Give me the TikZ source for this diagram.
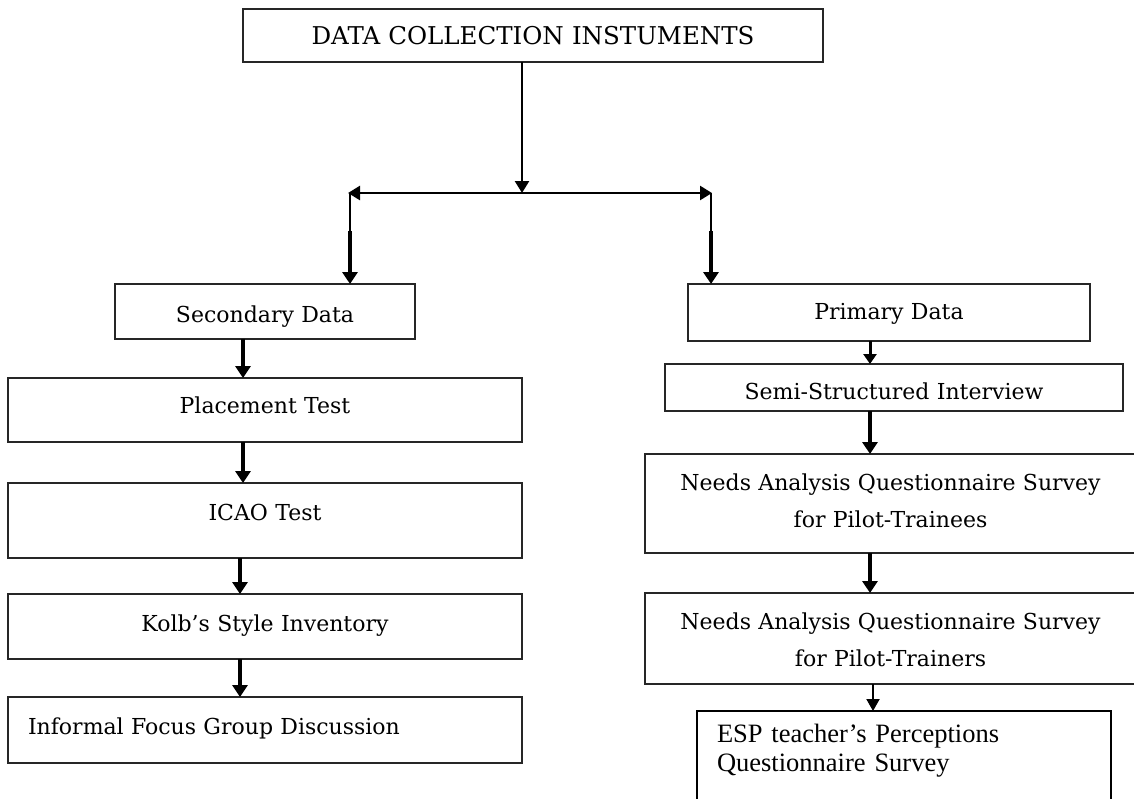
\documentclass[tikz,border=0pt]{standalone}
\usepackage{fontspec}
\setmainfont{DejaVu Serif}
\newfontfamily\timesfont{Liberation Serif}
\usetikzlibrary{arrows.meta}
\begin{document}
\begin{tikzpicture}[x=1pt,y=-1pt,
  box/.style={draw=black!85, line width=1.5pt, inner sep=0pt, outer sep=0pt,
    anchor=north west, align=center, font=\fontsize{22}{37.5}\selectfont},
  conn/.style={line width=3.5pt, -{Triangle[width=15pt,length=12pt]}},
  thin conn/.style={line width=2.5pt, -{Triangle[width=14pt,length=12pt]}},
]
\useasboundingbox (0,0) rectangle (1134,798);
\clip (0,0) rectangle (1134,798);
\fill[white] (0,0) rectangle (1134,798);

% boxes
\node[box, text width=580pt, text height=35pt, text depth=18pt,
  font=\fontsize{24.5}{30}\selectfont] (top) at (243,9) {DATA COLLECTION INSTUMENTS};

\node[box, text width=300pt, text height=38pt, text depth=17pt] (sec) at (115,284) {Secondary Data};
\node[box, text width=514pt, text height=35pt, text depth=29pt] (place) at (8,378) {Placement Test};
\node[box, text width=514pt, text height=37pt, text depth=38pt] (icao) at (8,483) {ICAO Test};
\node[box, text width=514pt, text height=37pt, text depth=28pt] (kolb) at (8,594) {Kolb’s Style Inventory};
\node[box, inner xsep=20pt, text width=474pt, align=left, text height=37pt, text depth=29pt] (inf) at (8,697) {Informal Focus Group Discussion};

\node[box, text width=402pt, text height=35pt, text depth=22pt] (prim) at (688,284) {Primary Data};
\node[box, text width=458pt, text height=35pt, text depth=12pt] (semi) at (665,364) {Semi-Structured Interview};
\node[box, text width=491pt, text height=36pt, text depth=63pt] (needa) at (645,454) {Needs Analysis Questionnaire Survey\\for Pilot-Trainees};
\node[box, text width=491pt, text height=36pt, text depth=55pt] (needb) at (645,593) {Needs Analysis Questionnaire Survey\\for Pilot-Trainers};
\node[box, draw=black, line width=2pt, inner xsep=20pt, text width=374pt, align=left, text height=31pt, text depth=88pt,
  font=\timesfont\fontsize{26.5}{29}\selectfont] (esp) at (697,711) {ESP teacher’s Perceptions\\Questionnaire Survey};

% guides
\coordinate (jM) at (522,193);
\coordinate (jL) at (348,193);
\coordinate (jR) at (712,193);
\coordinate (dL) at (350,193);
\coordinate (dR) at (711,193);
\coordinate (mL) at (350,231);
\coordinate (mR) at (711,231);
\coordinate (xa) at (243,0);
\coordinate (xb) at (240,0);
\coordinate (xr) at (870,0);
\coordinate (xs) at (873,0);

% connectors
\draw[thin conn] (top.south -| jM) -- (jM);
\draw[line width=2.5pt, {Triangle[width=14pt,length=12pt]}-{Triangle[width=14pt,length=12pt]}] (jL) -- (jR);
\draw[line width=2.5pt] (dL) -- (mL);
\draw[conn] (mL) -- (sec.north -| dL);
\draw[line width=2.5pt] (dR) -- (mR);
\draw[conn] (mR) -- (prim.north -| dR);

\draw[conn] (sec.south -| xa) -- (place.north -| xa);
\draw[conn] (place.south -| xa) -- (icao.north -| xa);
\draw[conn] (icao.south -| xb) -- (kolb.north -| xb);
\draw[conn] (kolb.south -| xb) -- (inf.north -| xb);

\draw[line width=3pt, -{Triangle[width=13pt,length=10pt]}] (prim.south -| xr) -- (semi.north -| xr);
\draw[conn] (semi.south -| xr) -- (needa.north -| xr);
\draw[conn] (needa.south -| xr) -- (needb.north -| xr);
\draw[line width=2pt, -{Triangle[width=13pt,length=12pt]}] (needb.south -| xs) -- (esp.north -| xs);
\end{tikzpicture}
\end{document}
